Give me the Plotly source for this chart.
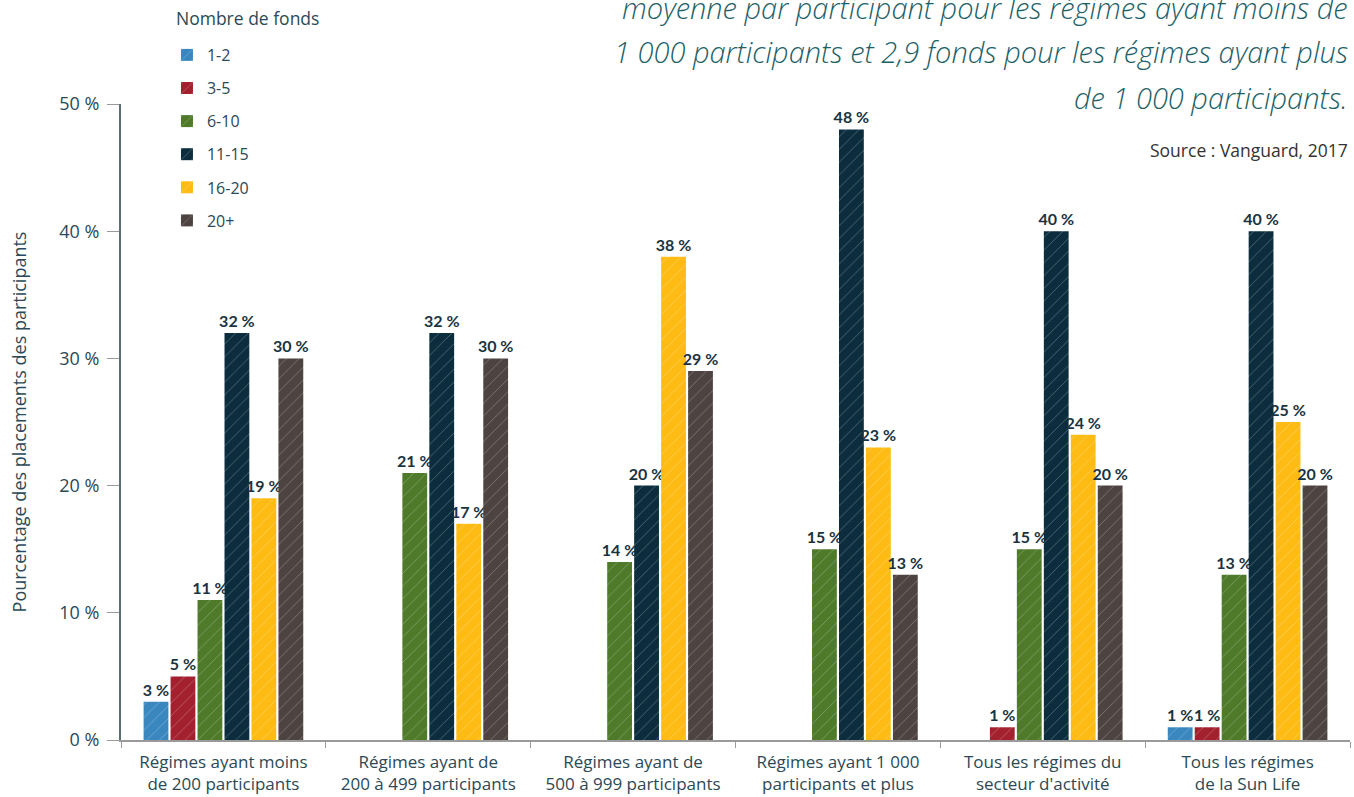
import plotly.graph_objects as go

categories = [
    "Régimes ayant moins<br>de 200 participants",
    "Régimes ayant de<br>200 à 499 participants",
    "Régimes ayant de<br>500 à 999 participants",
    "Régimes ayant 1 000<br>participants et plus",
    "Tous les régimes du<br>secteur d'activité",
    "Tous les régimes<br>de la Sun Life",
]
series_names = ["1-2", "3-5", "6-10", "11-15", "16-20", "20+"]
v_1_2 = [3, None, None, None, None, 1]
v_3_5 = [5, None, None, None, 1, 1]
v_6_10 = [11, 21, 14, 15, 15, 13]
v_11_15 = [32, 32, 20, 48, 40, 40]
v_16_20 = [19, 17, 38, 23, 24, 25]
v_20p = [30, 30, 29, 13, 20, 20]
series_values = [v_1_2, v_3_5, v_6_10, v_11_15, v_16_20, v_20p]
colors = ["#3a87c0", "#a3202f", "#4e7a2a", "#0b2d3d", "#fdbb13", "#4d4341"]
y_ticks = [0, 10, 20, 30, 40, 50]
y_tick_labels = ["0 %", "10 %", "20 %", "30 %", "40 %", "50 %"]

FONT = "Open Sans"
TXT = "#2b4956"

fig = go.Figure()
for i, (name, vals, col) in enumerate(zip(series_names, series_values, colors)):
    fig.add_trace(go.Bar(
        name=name,
        x=categories,
        y=vals,
        legendgroup=name,
        marker=dict(
            color=col,
            line=dict(width=0),
            pattern=dict(shape="/", fgcolor="rgba(255,255,255,0.55)", size=9, solidity=0.1),
        ),
        text=[f"{v} %" if v is not None else "" for v in vals],
        textposition="outside",
        constraintext="none",
        textfont=dict(family="Lato", size=16, color="#1a3340", weight="bold"),
        cliponaxis=False,
    ))

fig.update_layout(
    width=1354, height=797,
    margin=dict(l=121, r=4, t=104, b=57),
    plot_bgcolor="white", paper_bgcolor="white",
    barmode="group", bargap=0.21, bargroupgap=0.08,
    font=dict(family=FONT, size=16, color=TXT),
    showlegend=True,
    legend=dict(
        x=0.0374, y=(740 - 38) / 636, xanchor="left", yanchor="top",
        orientation="v", tracegroupgap=9.3,
        font=dict(family=FONT, size=16, color=TXT), bgcolor="rgba(0,0,0,0)",
        itemwidth=30,
    ),
    xaxis=dict(
        showline=True, linecolor="#9a9a9a", linewidth=1.5,
        ticks="outside", tickson="boundaries", ticklen=6, tickcolor="#9a9a9a",
        tickfont=dict(family=FONT, size=17, color=TXT), showgrid=False,
        ticklabelstandoff=6, automargin=False,
    ),
    yaxis=dict(
        range=[0, 50], tickvals=y_ticks, ticktext=y_tick_labels,
        showline=True, linecolor="#5d6d74", linewidth=2,
        ticks="outside", ticklen=12, tickcolor="#9a9a9a",
        tickfont=dict(family=FONT, size=18, color=TXT), showgrid=False, zeroline=False,
        ticklabelstandoff=4, automargin=False,
        title=dict(text="Pourcentage des placements des participants",
                   font=dict(family=FONT, size=18, color=TXT), standoff=28),
    ),
)

fig.add_annotation(text="Nombre de fonds", xref="paper", yref="paper",
                   x=(174 - 121) / 1229, y=(740 - 18) / 636, xanchor="left", yanchor="middle",
                   showarrow=False, font=dict(family=FONT, size=17.5, color=TXT))

title_lines = [
    ("moyenne par participant pour les régimes ayant moins de", 1.1525),
    ("1 000 participants et 2,9 fonds pour les régimes ayant plus", 1.082),
    ("de 1 000 participants.", 1.011),
]
for txt, yy in title_lines:
    fig.add_annotation(text=txt, xref="paper", yref="paper", x=1.0, y=yy,
                       xanchor="right", yanchor="middle", showarrow=False,
                       font=dict(family="Open Sans", size=29, color="#1d5f69",
                                 style="italic", weight=300))
fig.add_annotation(text="Source : Vanguard, 2017", xref="paper", yref="paper",
                   x=1.0, y=(740 - 150) / 636, xanchor="right", yanchor="middle",
                   showarrow=False, font=dict(family=FONT, size=17.5, color="#333333"))

fig.write_html("out.html", config={"displayModeBar": False},
               post_script="document.body.style.margin='0px';")
